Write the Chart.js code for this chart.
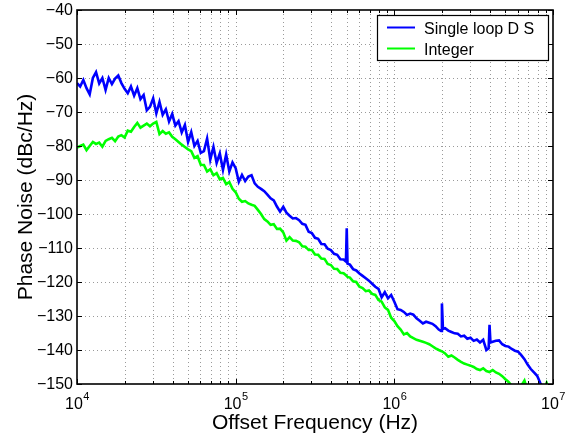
<!DOCTYPE html>
<html><head><meta charset="utf-8">
<script src="https://cdn.jsdelivr.net/npm/chart.js@4/dist/chart.umd.min.js"></script>
<style>html,body{margin:0;padding:0;background:#fff}</style>
</head><body>
<canvas id="c" width="570" height="436"></canvas>
<script>
// ---- data ----
const freqHz = [
 10000,10470,10960,11480,12020,12590,13180,13800,14450,15140,
 15850,16600,17380,18200,19050,19950,20890,21880,22910,23990,
 25120,26300,27540,28840,30200,31620,33110,34670,36310,38020,
 39810,41690,43650,45710,47860,50120,52480,54950,57540,60260,
 63100,66070,69180,72440,75860,79430,83180,87100,91200,95500,
 100000,104700,109600,114800,120200,125900,131800,138000,144500,151400,
 158500,166000,173800,182000,190500,199500,208900,218800,229100,239900,
 251200,263000,275400,288400,302000,316200,331100,346700,363100,380200,
 398100,416900,436500,457100,478600,495500,501200,507000,524800,549500,575400,602600,
 631000,660700,691800,724400,758600,794300,831800,871000,912000,955000,
 1000000,1047000,1096000,1148000,1202000,1259000,1318000,1380000,1445000,1514000,
 1585000,1660000,1738000,1820000,1905000,1970000,1995000,2025000,2089000,2188000,2291000,2399000,
 2512000,2630000,2754000,2884000,3020000,3162000,3311000,3467000,3631000,3802000,
 3930000,3981000,4035000,4169000,4365000,4571000,4786000,5012000,5248000,5495000,5754000,6026000,
 6310000,6607000,6918000,7244000,7586000,7943000,8318000,8710000,9120000,9550000
];
const singleLoopDb = [
 -61.5,-62.5,-60.6,-63,-64.8,-60,-58.3,-61.6,-60,-63.5,
 -60,-61.8,-60.2,-59.3,-61.5,-63.2,-64.5,-62.5,-65.2,-63,
 -66.2,-65,-69.5,-68.5,-66,-70.4,-67,-70.8,-69.2,-72.8,
 -70.6,-74,-72.7,-76,-73.8,-78.8,-75.9,-80,-78.5,-82,
 -81.5,-77.8,-84,-80.3,-85,-82.2,-87,-82.5,-87.5,-84.8,
 -86.5,-90.5,-88.5,-90.3,-89,-88.6,-91,-92,-92.6,-93.3,
 -94.3,-95.4,-96,-97.8,-99.3,-97.9,-99.6,-100.5,-101.3,-101.2,
 -101.8,-102.9,-103.2,-105.2,-105.6,-107,-107.3,-108.8,-108.9,-110.2,
 -110.6,-111.7,-112,-113.3,-113.4,-114,-104.2,-114.6,-114.9,-116.2,-116.6,-117.5,
 -118.2,-118.9,-119.6,-120.5,-121.4,-122,-124.5,-123,-124.8,-123.8,
 -125.8,-128,-128.2,-128.8,-129.7,-129.3,-129.6,-130.7,-131.4,-132.2,
 -131.7,-132,-132.3,-133,-134,-134.4,-126.3,-133.8,-133.6,-134.3,-134.7,-135.1,
 -135.2,-136,-135.8,-136.7,-136.4,-137.3,-136.9,-137.8,-137,-140,
 -139.5,-132.6,-137.8,-137.6,-137.3,-137.2,-138.3,-138.8,-139,-139.7,-140.2,-140.5,
 -141.5,-142.7,-144.3,-145.6,-146.6,-147.6,-149.7,-151.5,null,null
];
const integerDb = [
 -80.5,-80,-79.6,-81.2,-80,-78.8,-79.4,-79,-80.2,-78.5,
 -78,-77.6,-78.6,-77.2,-76.8,-77.5,-75.5,-75.8,-74.4,-73.2,
 -74.6,-74,-73.4,-74.2,-73.4,-72.9,-76.5,-75.6,-76.4,-76,
 -77.3,-78,-78.8,-79.6,-80.3,-81,-81.5,-83.5,-83,-85.5,
 -85.6,-87.5,-86.8,-88.6,-88,-89.8,-89.4,-91.2,-90.6,-92.6,
 -93.6,-95.5,-96.4,-96.2,-96.9,-97.3,-97.6,-98.8,-100,-101.5,
 -102.2,-103.2,-103,-104.4,-104.3,-105.4,-107.8,-106.8,-107.8,-107.9,
 -108.3,-109.5,-109.6,-110.6,-110.6,-111.9,-112,-113.1,-113.2,-114.7,
 -115,-116.1,-116.2,-117.3,-117.4,-118,-118.3,-118.5,-118.7,-119.8,-120,-121.4,
 -121.8,-122.7,-122.5,-123.5,-123.8,-125.3,-125.8,-127.5,-128.2,-130.5,
 -131.5,-133,-134,-135.4,-135,-136,-136.5,-137,-137.3,-137.6,
 -137.9,-138.3,-138.9,-139.5,-140,-140.3,-140.4,-140.6,-141,-142,-141.6,-142.2,
 -142.9,-143.5,-144,-144.3,-144.6,-145,-145.6,-145.9,-145.4,-146.2,
 -146.4,-146.5,-146.3,-145.9,-146.6,-147,-147.7,-148.6,-149.4,-150.6,-152,-152,
 -150.5,-149,-152,-152,-152,-152,-152,-152,-149.7,-152
];
const seriesLabels = ['Single loop D S', 'Integer'];
const seriesColors = ['#0000ff', '#00ff00'];
const yTicks = [-40,-50,-60,-70,-80,-90,-100,-110,-120,-130,-140,-150];
const xMajorTicks = [1e4,1e5,1e6,1e7];
const xTickExponents = ['4','5','6','7'];
const xMinorTicks = [2e4,3e4,4e4,5e4,6e4,7e4,8e4,9e4,2e5,3e5,4e5,5e5,6e5,7e5,8e5,9e5,2e6,3e6,4e6,5e6,6e6,7e6,8e6,9e6];
const xTitle = 'Offset Frequency (Hz)';
const yTitle = 'Phase Noise (dBc/Hz)';

const FONT = '"Liberation Sans", Arial, Helvetica, sans-serif';

const decor = {
  id: 'decor',
  beforeDatasetsDraw(chart) {
    const {ctx, chartArea: a, scales: {x, y}} = chart;
    ctx.save();
    ctx.strokeStyle = '#9a9a9a';
    ctx.lineWidth = 1;
    ctx.setLineDash([1, 3]);
    const grid = xMinorTicks.concat(xMajorTicks.slice(1, -1));
    for (const v of grid) {
      const px = Math.round(x.getPixelForValue(v)) + 0.5;
      ctx.beginPath(); ctx.moveTo(px, a.top); ctx.lineTo(px, a.bottom); ctx.stroke();
    }
    for (const v of yTicks.slice(1, -1)) {
      const py = Math.round(y.getPixelForValue(v)) + 0.5;
      ctx.beginPath(); ctx.moveTo(a.left, py); ctx.lineTo(a.right, py); ctx.stroke();
    }
    ctx.restore();
  },
  afterDatasetsDraw(chart) {
    const {ctx, chartArea: a, scales: {x, y}} = chart;
    ctx.save();
    ctx.setLineDash([]);
    ctx.strokeStyle = '#000';
    ctx.lineWidth = 1;
    // tick marks (inward)
    ctx.beginPath();
    for (const v of xMajorTicks) {
      const px = Math.round(x.getPixelForValue(v)) + 0.5;
      ctx.moveTo(px, a.bottom); ctx.lineTo(px, a.bottom - 5);
      ctx.moveTo(px, a.top); ctx.lineTo(px, a.top + 5);
    }
    for (const v of xMinorTicks) {
      const px = Math.round(x.getPixelForValue(v)) + 0.5;
      ctx.moveTo(px, a.bottom); ctx.lineTo(px, a.bottom - 3);
      ctx.moveTo(px, a.top); ctx.lineTo(px, a.top + 3);
    }
    for (const v of yTicks) {
      const py = Math.round(y.getPixelForValue(v)) + 0.5;
      ctx.moveTo(a.left, py); ctx.lineTo(a.left + 5, py);
      ctx.moveTo(a.right, py); ctx.lineTo(a.right - 5, py);
    }
    ctx.stroke();
    // frame
    ctx.lineWidth = 1.6;
    ctx.strokeRect(a.left, a.top, a.right - a.left, a.bottom - a.top);

    // y tick labels
    ctx.fillStyle = '#000';
    ctx.font = '16px ' + FONT;
    ctx.textAlign = 'right';
    ctx.textBaseline = 'middle';
    for (const v of yTicks) {
      const py = y.getPixelForValue(v);
      ctx.fillText(String(v).replace('-', '\u2212'), a.left - 4, py + 1);
    }
    // x tick labels 10^n
    ctx.textBaseline = 'alphabetic';
    ctx.textAlign = 'left';
    xMajorTicks.forEach((v, i) => {
      const px = x.getPixelForValue(v);
      ctx.font = '16px ' + FONT;
      const wb = ctx.measureText('10').width;
      ctx.font = '11px ' + FONT;
      const we = ctx.measureText(xTickExponents[i]).width;
      const left = px - (wb + we) / 2;
      ctx.font = '16px ' + FONT;
      ctx.fillText('10', left, a.bottom + 25);
      ctx.font = '11px ' + FONT;
      ctx.fillText(xTickExponents[i], left + wb + 0.5, a.bottom + 16);
    });
    // axis titles
    ctx.font = '21px ' + FONT;
    ctx.textAlign = 'center';
    ctx.fillText(xTitle, (a.left + a.right) / 2, a.bottom + 45);
    ctx.save();
    ctx.translate(32, (a.top + a.bottom) / 2);
    ctx.rotate(-Math.PI / 2);
    ctx.fillText(yTitle, 0, 0);
    ctx.restore();

    // legend
    const lx = 377, ly = 15, lw = 171, lh = 45;
    ctx.fillStyle = '#fff';
    ctx.fillRect(lx, ly, lw, lh);
    ctx.strokeStyle = '#000';
    ctx.lineWidth = 1.2;
    ctx.strokeRect(lx + 0.5, ly + 0.5, lw, lh);
    ctx.font = '16px ' + FONT;
    ctx.textAlign = 'left';
    chart.data.datasets.forEach((ds, i) => {
      const yy = ly + 12.5 + i * 21;
      ctx.strokeStyle = ds.borderColor;
      ctx.lineWidth = 2;
      ctx.beginPath(); ctx.moveTo(lx + 10, yy); ctx.lineTo(lx + 38, yy); ctx.stroke();
      ctx.fillStyle = '#000';
      ctx.fillText(ds.label, lx + 47, yy + 6.5);
    });
    ctx.restore();
  }
};

new Chart(document.getElementById('c'), {
  type: 'line',
  data: {
    datasets: [
      { label: seriesLabels[0], data: freqHz.map((f, i) => ({x: f, y: singleLoopDb[i]})),
        borderColor: seriesColors[0], borderWidth: 2.6, pointRadius: 0, tension: 0, fill: false, order: 1 },
      { label: seriesLabels[1], data: freqHz.map((f, i) => ({x: f, y: integerDb[i]})),
        borderColor: seriesColors[1], borderWidth: 2.6, pointRadius: 0, tension: 0, fill: false, order: 0 }
    ]
  },
  options: {
    responsive: false,
    animation: false,
    devicePixelRatio: 1,
    layout: { padding: { left: 77, right: 17, top: 10, bottom: 52 } },
    plugins: { legend: { display: false }, tooltip: { enabled: false } },
    scales: {
      x: { type: 'logarithmic', min: 1e4, max: 1e7,
           ticks: { display: false }, grid: { display: false, drawTicks: false }, border: { display: false } },
      y: { type: 'linear', min: -150, max: -40,
           ticks: { display: false }, grid: { display: false, drawTicks: false }, border: { display: false } }
    }
  },
  plugins: [decor]
});
</script>
</body></html>
